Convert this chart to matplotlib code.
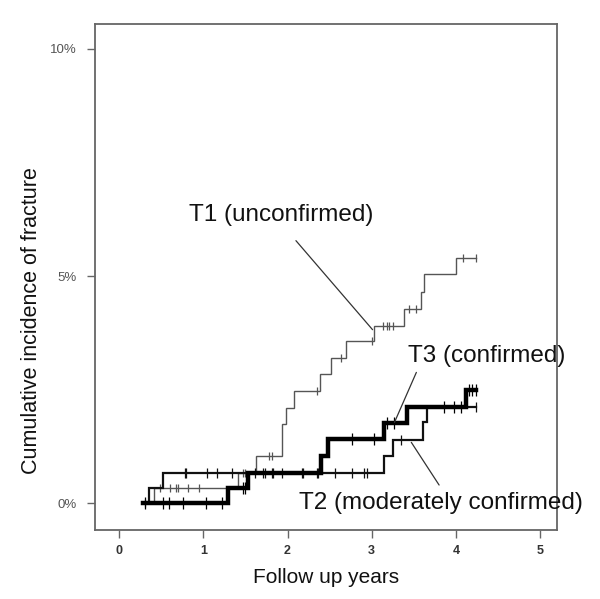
import numpy as np
import matplotlib
matplotlib.use("Agg")
import matplotlib.pyplot as plt

plt.rcParams['font.family'] = ['Liberation Sans', 'DejaVu Sans']

# ---- data (years, cumulative incidence in %) ----
t1_times = [0.30, 0.41, 1.41, 1.62, 1.93, 1.98, 2.08, 2.39, 2.52, 2.70, 3.03, 3.38, 3.59, 3.62, 4.00, 4.24]
t1_vals  = [0.00, 0.33, 0.67, 1.03, 1.75, 2.10, 2.46, 2.84, 3.19, 3.56, 3.90, 4.28, 4.65, 5.05, 5.40, 5.40]
t1_cens  = [0.31, 0.49, 0.60, 0.68, 0.70, 0.82, 0.95, 1.47, 1.50, 1.78, 1.81, 2.35, 2.64, 3.00,
            3.13, 3.18, 3.21, 3.25, 3.44, 3.53, 4.08, 4.24]

t2_times = [0.30, 0.36, 0.52, 3.15, 3.25, 3.61, 3.66, 4.24]
t2_vals  = [0.00, 0.33, 0.67, 1.05, 1.40, 1.78, 2.12, 2.12]
t2_cens  = [0.78, 0.80, 1.04, 1.16, 1.34, 1.61, 1.71, 1.73, 1.81, 1.83, 1.93, 2.17, 2.18,
            2.35, 2.36, 2.56, 2.77, 2.91, 2.94, 3.35, 4.24]

t3_times = [0.28, 1.29, 1.53, 2.40, 2.48, 3.15, 3.42, 4.12, 4.24]
t3_vals  = [0.00, 0.33, 0.67, 1.05, 1.42, 1.76, 2.12, 2.50, 2.50]
t3_cens  = [0.31, 0.52, 0.59, 0.76, 1.03, 1.22, 1.47, 1.50, 2.77, 3.03, 3.18, 3.27,
            3.86, 3.98, 4.06, 4.15, 4.19, 4.24]

x_ticks = [0, 1, 2, 3, 4, 5]
y_ticks = [0, 5, 10]
y_ticklabels = ['0%', '5%', '10%']

labels = ['T1 (unconfirmed)', 'T2 (moderately confirmed)', 'T3 (confirmed)']


def level_at(times, vals, t):
    idx = np.searchsorted(times, t, side='right') - 1
    idx = np.clip(idx, 0, len(vals) - 1)
    return np.asarray(vals)[idx]


fig = plt.figure(figsize=(6.0, 5.99), dpi=100)
ax = fig.add_axes([95/600, 1-530/599, (557-95)/600, (530-24)/599])

series = [
    (t1_times, t1_vals, t1_cens, '#555555', 1.0, 6),
    (t2_times, t2_vals, t2_cens, '#111111', 1.6, 7),
    (t3_times, t3_vals, t3_cens, '#000000', 3.2, 8),
]
for times, vals, cens, col, lw, ms in series:
    ax.step(times, vals, where='post', color=col, lw=lw, solid_joinstyle='miter')
    c = np.array(cens)
    ax.plot(c, level_at(times, vals, c), ls='none', marker='|', ms=ms,
            mew=0.9, color=col)

ax.set_xlim(-0.286, 5.2)
ax.set_ylim(-0.59, 10.55)
ax.set_xticks(x_ticks)
ax.set_xticklabels([str(v) for v in x_ticks], fontsize=9, fontweight='bold', color='#333333')
ax.set_yticks(y_ticks)
ax.set_yticklabels(y_ticklabels, fontsize=9.5, color='#555555')
ax.tick_params(direction='out', length=6, width=1.0, color='#666666', pad=5)
ax.tick_params(axis='y', pad=7)
for s in ax.spines.values():
    s.set_color('#666666')
    s.set_linewidth(1.3)

ax.set_xlabel('Follow up years', fontsize=15, color='#111111', labelpad=8)
ax.set_ylabel('Cumulative incidence of fracture', fontsize=15.5, color='#111111')
ax.yaxis.set_label_coords(-0.115, 0.413)

tfs = 17.5
ax.text(1.92, 6.35, labels[0], fontsize=tfs, ha='center', va='center', color='#111111')
ax.annotate('', xy=(3.01, 3.82), xytext=(2.10, 5.78),
            arrowprops=dict(arrowstyle='-', color='#333333', lw=0.9, shrinkA=0, shrinkB=0))
ax.text(4.36, 3.25, labels[2], fontsize=tfs, ha='center', va='center', color='#111111')
ax.annotate('', xy=(3.27, 1.78), xytext=(3.53, 2.88),
            arrowprops=dict(arrowstyle='-', color='#333333', lw=0.9, shrinkA=0, shrinkB=0))
ax.text(3.82, 0.0, labels[1], fontsize=tfs, ha='center', va='center', color='#111111')
ax.annotate('', xy=(3.47, 1.34), xytext=(3.80, 0.40),
            arrowprops=dict(arrowstyle='-', color='#333333', lw=0.9, shrinkA=0, shrinkB=0))

fig.savefig('out.png', dpi=100, facecolor='white')
